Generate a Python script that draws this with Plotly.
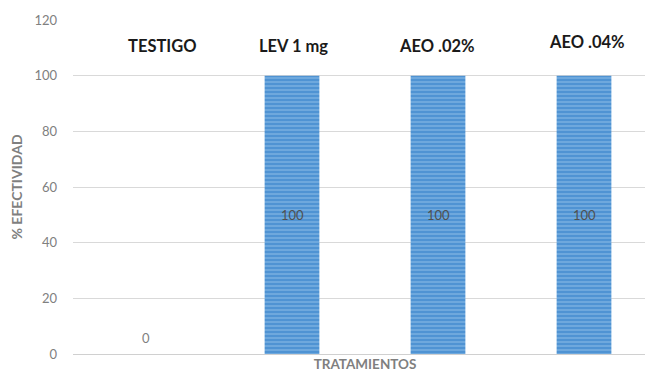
import plotly.graph_objects as go

categories = ["TESTIGO", "LEV 1 mg", "AEO .02%", "AEO .04%"]
values = [0, 100, 100, 100]
value_labels = ["0", "100", "100", "100"]
y_ticks = [0, 20, 40, 60, 80, 100, 120]

x_idx = list(range(len(categories)))

fig = go.Figure()
fig.add_trace(go.Bar(
    x=x_idx, y=values, width=0.375,
    marker=dict(
        color="#4f93d3",
        line=dict(width=0),
        pattern=dict(shape="-", fgcolor="#a9cdef", bgcolor="#4f93d3",
                     size=4, solidity=0.35, fillmode="overlay"),
    ),
    hoverinfo="skip", showlegend=False,
))

annotations = []
for i, (v, t) in enumerate(zip(values, value_labels)):
    annotations.append(dict(
        x=i, y=(v / 2 if v > 0 else 5.8), xref="x", yref="y", text=t,
        showarrow=False,
        font=dict(family="Lato", size=13, color=("#505050" if v > 0 else "#7f7f7f")),
    ))
cat_y = [110.5, 110.5, 110.5, 112]
cat_dx = [0.11, 0.01, -0.01, 0.02]
for i, c in enumerate(categories):
    annotations.append(dict(
        x=i + cat_dx[i], y=cat_y[i], xref="x", yref="y", text="<b>%s</b>" % c,
        showarrow=False, font=dict(family="Lato", size=16.5, color="#1a1a1a"),
    ))

fig.update_layout(
    width=653, height=373,
    margin=dict(l=65, r=4, t=12, b=27),
    paper_bgcolor="white", plot_bgcolor="white",
    font=dict(family="Lato", color="#7f7f7f"),
    annotations=annotations,
    xaxis=dict(
        range=[-0.5, 3.5], showticklabels=False, showgrid=False,
        zeroline=False, showline=False, ticks="",
        title=dict(text="<b>TRATAMIENTOS</b>", standoff=5,
                   font=dict(family="Lato", size=13.5, color="#7f7f7f")),
    ),
    yaxis=dict(
        range=[0, 120], tickvals=y_ticks, showgrid=True, gridcolor="#d9d9d9",
        gridwidth=1, zeroline=True, zerolinecolor="#d0d0d0", zerolinewidth=1,
        showline=False, ticks="", ticklabelstandoff=15,
        tickfont=dict(family="Lato", size=13, color="#808080"),
        title=dict(text="<b>% EFECTIVIDAD</b>", standoff=12,
                   font=dict(family="Lato", size=14, color="#7f7f7f")),
    ),
    bargap=0.6,
)

fig.write_html("out.html")
